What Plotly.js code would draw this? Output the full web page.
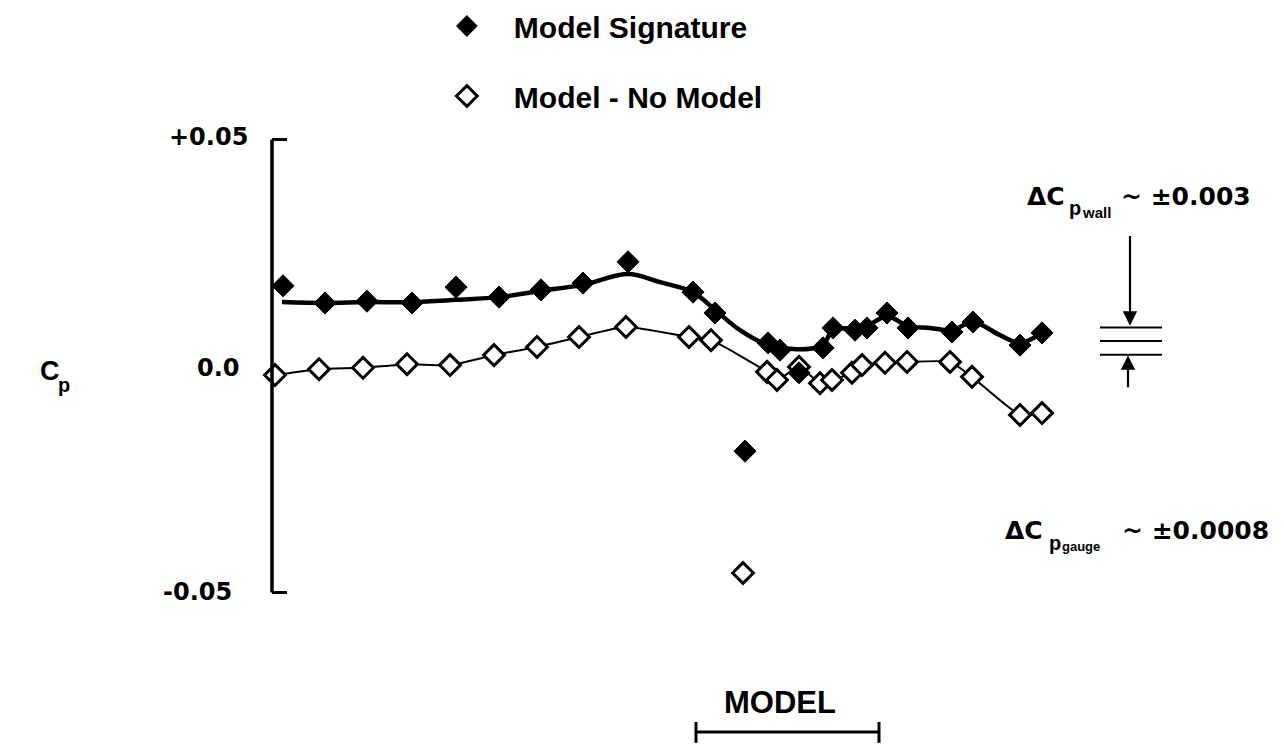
<!DOCTYPE html>
<html>
<head>
<meta charset="utf-8">
<script src="https://cdn.plot.ly/plotly-3.0.1.min.js"></script>
<style>html,body{margin:0;padding:0;background:#fff;}#chart{width:1284px;height:747px;}</style>
</head>
<body>
<div id="chart"></div>
<script>
// Station position along the wall (arbitrary units) and Cp values
var sigX = [1.1, 5.3, 9.5, 14.0, 18.4, 22.7, 26.9, 31.1, 35.6, 42.1, 44.3, 47.3, 49.6, 50.8, 52.7, 55.1, 56.1, 58.3, 59.5, 61.5, 63.6, 68.0, 70.1, 74.8, 77.0];
var sigY = [0.0177, 0.0139, 0.0143, 0.0139, 0.0174, 0.0152, 0.0168, 0.0183, 0.0230, 0.0163, 0.0117, -0.0188, 0.0051, 0.0035, -0.0015, 0.0040, 0.0084, 0.0079, 0.0084, 0.0117, 0.0084, 0.0075, 0.0097, 0.0046, 0.0073];

var diffX = [0.3, 4.7, 9.1, 13.5, 17.8, 22.2, 26.5, 30.7, 35.4, 41.7, 43.9, 47.1, 49.5, 50.5, 52.7, 54.8, 56.0, 58.0, 59.0, 61.3, 63.5, 67.8, 70.0, 74.8, 77.0];
var diffY = [-0.0020, -0.0007, -0.0004, 0.0004, 0.0002, 0.0024, 0.0042, 0.0064, 0.0086, 0.0064, 0.0057, -0.0457, -0.0013, -0.0031, -0.0002, -0.0038, -0.0031, -0.0015, 0.0002, 0.0007, 0.0009, 0.0009, -0.0024, -0.0108, -0.0104];

// Faired curve through the model signature data
var fitX = [1.0, 5.3, 9.5, 14.0, 18.4, 22.7, 26.9, 31.1, 35.6, 38.8, 42.1, 44.3, 46.8, 49.6, 51.8, 53.8, 55.1, 56.1, 58.3, 59.5, 61.5, 63.6, 65.8, 68.0, 70.1, 72.8, 74.8, 77.0];
var fitY = [0.0141, 0.0139, 0.0141, 0.0141, 0.0146, 0.0152, 0.0166, 0.0179, 0.0203, 0.0185, 0.0163, 0.0124, 0.0079, 0.0046, 0.0038, 0.0038, 0.0046, 0.0079, 0.0084, 0.0088, 0.0110, 0.0088, 0.0084, 0.0079, 0.0097, 0.0068, 0.0051, 0.0073];

var yTickVals = [0.05, 0.0, -0.05];
var yTickText = ['+0.05', '0.0', '-0.05'];
var wallBand = [0.0085, 0.0055, 0.0025];
var modelSpan = [42.4, 60.7];

// open-symbol connecting line skips the outlier
var outlierIdx = 11;
var diffLineX = diffX.filter(function(v, i){ return i !== outlierIdx; });
var diffLineY = diffY.filter(function(v, i){ return i !== outlierIdx; });

var FONT = 'Liberation Sans, Arial, Helvetica, sans-serif';
var NUMFONT = 'DejaVu Sans, Liberation Sans, sans-serif';

var traces = [
  {x: diffLineX, y: diffLineY, mode: 'lines', line: {color: '#000', width: 2, shape: 'spline', smoothing: 0.5}, showlegend: false, hoverinfo: 'skip'},
  {x: fitX, y: fitY, mode: 'lines', line: {color: '#000', width: 4.5, shape: 'spline', smoothing: 1}, showlegend: false, hoverinfo: 'skip'},
  {x: diffX, y: diffY, mode: 'markers', name: 'Model - No Model', legendgroup: 'b', legendrank: 2,
   marker: {symbol: 'diamond', size: 16, color: '#fff', line: {color: '#000', width: 3}}},
  {x: sigX, y: sigY, mode: 'markers', name: 'Model Signature', legendgroup: 'a', legendrank: 1,
   marker: {symbol: 'diamond', size: 17, color: '#000', line: {color: '#000', width: 1}}}
];

var shapes = [
  {type: 'line', xref: 'x', yref: 'y', x0: 0, x1: 0, y0: -0.05, y1: 0.05, line: {color: '#000', width: 3.5}},
  {type: 'line', xref: 'x', yref: 'y', x0: 0, x1: 1.5, y0: 0.05, y1: 0.05, line: {color: '#000', width: 3}},
  {type: 'line', xref: 'x', yref: 'y', x0: 0, x1: 1.5, y0: -0.05, y1: -0.05, line: {color: '#000', width: 3}},
  {type: 'line', xref: 'x', yref: 'y', x0: modelSpan[0], x1: modelSpan[1], y0: -0.0808, y1: -0.0808, line: {color: '#000', width: 3}},
  {type: 'line', xref: 'x', yref: 'y', x0: modelSpan[0], x1: modelSpan[0], y0: -0.0786, y1: -0.0832, line: {color: '#000', width: 3}},
  {type: 'line', xref: 'x', yref: 'y', x0: modelSpan[1], x1: modelSpan[1], y0: -0.0786, y1: -0.0832, line: {color: '#000', width: 3}}
];
wallBand.forEach(function(v){
  shapes.push({type: 'line', xref: 'x', yref: 'y', x0: 82.8, x1: 89.0, y0: v, y1: v, line: {color: '#000', width: 2}});
});

function txt(t, x, y, size, anchor, fam) {
  return {text: t, x: x, y: y, xref: 'x', yref: 'y', showarrow: false, xanchor: anchor || 'left', yanchor: 'middle',
          font: {family: fam || FONT, size: size, color: '#000', weight: 'bold'}};
}

var annotations = [];
var tickLabelX = [-2.2, -3.0, -3.8];
var tickLabelY = [0.0506, -0.0004, -0.0500];
yTickVals.forEach(function(v, i){
  annotations.push(txt(yTickText[i], tickLabelX[i], tickLabelY[i], 24, 'right', NUMFONT));
});
annotations.push(txt('C', -23.4, -0.0010, 27, 'left'));
annotations.push(txt('p', -21.6, -0.0042, 20, 'left'));

// wall uncertainty label
annotations.push(txt('\u0394C', 75.3, 0.0375, 25, 'left', NUMFONT));
annotations.push(txt('p', 79.5, 0.0349, 20, 'left'));
annotations.push(txt('wall', 80.8, 0.0339, 15, 'left'));
annotations.push(txt('~ \u00B10.003', 84.7, 0.0375, 25, 'left', NUMFONT));

// gauge uncertainty label
annotations.push(txt('\u0394C', 73.1, -0.0364, 25, 'left', NUMFONT));
annotations.push(txt('p', 77.5, -0.0391, 20, 'left'));
annotations.push(txt('gauge', 78.8, -0.0398, 13, 'left'));
annotations.push(txt('~ \u00B10.0008', 84.8, -0.0364, 25, 'left', NUMFONT));

annotations.push(txt('MODEL', 50.8, -0.0742, 31, 'center'));

annotations.push({text: '', x: 85.8, y: 0.0089, ax: 85.8, ay: 0.0290, xref: 'x', yref: 'y', axref: 'x', ayref: 'y',
  showarrow: true, arrowhead: 2, arrowsize: 1.3, arrowwidth: 2.2, arrowcolor: '#000'});
annotations.push({text: '', x: 85.6, y: 0.0023, ax: 85.6, ay: -0.0050, xref: 'x', yref: 'y', axref: 'x', ayref: 'y',
  showarrow: true, arrowhead: 2, arrowsize: 1.3, arrowwidth: 2.2, arrowcolor: '#000'});

var layout = {
  width: 1284, height: 747,
  margin: {l: 0, r: 0, t: 0, b: 0, pad: 0, autoexpand: false},
  paper_bgcolor: '#fff', plot_bgcolor: '#fff',
  xaxis: {range: [-27.2, 101.2], visible: false, fixedrange: true, domain: [0, 1]},
  yaxis: {range: [-0.08411, 0.08079], visible: false, fixedrange: true, domain: [0, 1]},
  showlegend: true,
  legend: {x: 0.327, y: 1.0, xanchor: 'left', yanchor: 'top', xref: 'container', yref: 'container',
           traceorder: 'grouped', tracegroupgap: 28, itemwidth: 84,
           font: {family: FONT, size: 30, color: '#000', weight: 'bold'}, bgcolor: 'rgba(0,0,0,0)', borderwidth: 0},
  shapes: shapes,
  annotations: annotations,
  font: {family: FONT}
};

Plotly.newPlot('chart', traces, layout, {displayModeBar: false, staticPlot: true});
</script>
</body>
</html>
